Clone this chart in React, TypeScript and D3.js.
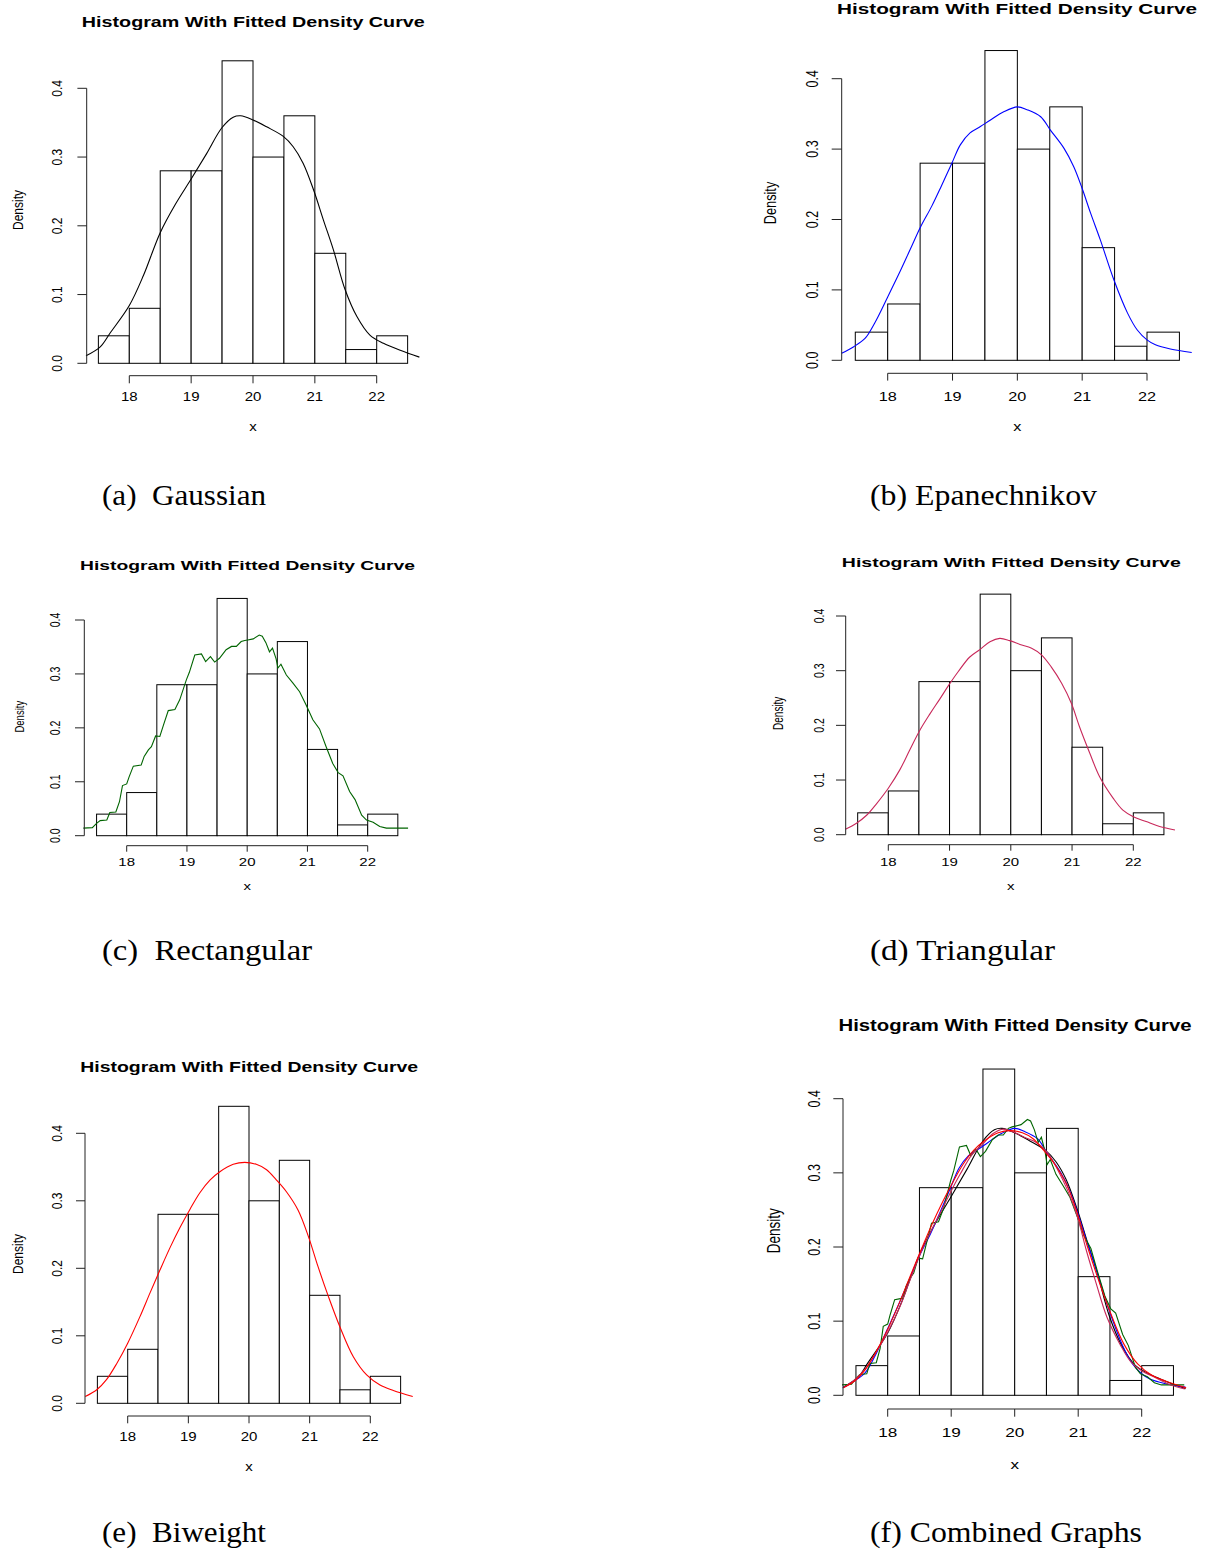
import React from 'react';
import * as d3 from 'd3';

// ---------- data ----------
const BIN_EDGES = [17.5, 18, 18.5, 19, 19.5, 20, 20.5, 21, 21.5, 22, 22.5];
const BIN_DENSITY = [0.04, 0.08, 0.28, 0.28, 0.44, 0.3, 0.36, 0.16, 0.02, 0.04];
const X_TICKS = [18, 19, 20, 21, 22];
const Y_TICKS = [0, 0.1, 0.2, 0.3, 0.4];
const Y_TICK_LABELS = ['0.0', '0.1', '0.2', '0.3', '0.4'];
const TITLE = 'Histogram With Fitted Density Curve';

const GAUSS_X = [17.3, 17.53, 17.69, 18.0, 18.23, 18.5, 18.75, 19.0, 19.25, 19.5, 19.68, 19.8, 20.0, 20.22, 20.49, 20.65, 20.81, 20.98, 21.14, 21.3, 21.49, 21.68, 21.89, 22.11, 22.38, 22.69];
const GAUSS_Y = [0.011, 0.024, 0.044, 0.084, 0.128, 0.19, 0.232, 0.268, 0.305, 0.343, 0.358, 0.36, 0.354, 0.344, 0.33, 0.315, 0.291, 0.252, 0.208, 0.165, 0.107, 0.068, 0.041, 0.029, 0.019, 0.009];

const EPAN_X = [17.29, 17.47, 17.65, 17.8, 18.0, 18.19, 18.35, 18.51, 18.68, 18.83, 18.99, 19.12, 19.27, 19.43, 19.58, 19.79, 20.0, 20.15, 20.36, 20.51, 20.72, 20.87, 21.0, 21.13, 21.28, 21.49, 21.7, 21.85, 22.0, 22.13, 22.36, 22.69];
const EPAN_Y = [0.01, 0.019, 0.031, 0.053, 0.09, 0.126, 0.158, 0.19, 0.219, 0.248, 0.28, 0.306, 0.323, 0.332, 0.341, 0.353, 0.36, 0.356, 0.346, 0.327, 0.301, 0.275, 0.244, 0.209, 0.171, 0.114, 0.067, 0.043, 0.029, 0.022, 0.016, 0.011];

const RECT_X = [17.28, 17.43, 17.5, 17.56, 17.67, 17.72, 17.82, 17.88, 17.93, 18.0, 18.04, 18.11, 18.24, 18.29, 18.36, 18.41, 18.48, 18.55, 18.61, 18.69, 18.8, 18.88, 18.99, 19.04, 19.13, 19.24, 19.31, 19.39, 19.46, 19.54, 19.65, 19.74, 19.82, 19.9, 19.96, 20.01, 20.1, 20.2, 20.25, 20.31, 20.37, 20.42, 20.48, 20.51, 20.56, 20.65, 20.76, 20.87, 20.98, 21.09, 21.2, 21.31, 21.42, 21.51, 21.59, 21.7, 21.79, 21.9, 21.98, 22.09, 22.2, 22.31, 22.67];
const RECT_Y = [0.014, 0.015, 0.023, 0.028, 0.029, 0.043, 0.044, 0.063, 0.093, 0.096, 0.109, 0.129, 0.131, 0.147, 0.159, 0.165, 0.185, 0.184, 0.205, 0.232, 0.234, 0.252, 0.289, 0.303, 0.335, 0.337, 0.323, 0.332, 0.322, 0.329, 0.345, 0.351, 0.351, 0.36, 0.362, 0.363, 0.365, 0.372, 0.37, 0.358, 0.341, 0.348, 0.328, 0.311, 0.318, 0.298, 0.283, 0.267, 0.242, 0.215, 0.198, 0.165, 0.134, 0.117, 0.111, 0.082, 0.067, 0.038, 0.029, 0.025, 0.017, 0.014, 0.014];

const TRI_X = [17.3, 17.48, 17.65, 17.81, 18.0, 18.19, 18.35, 18.52, 18.68, 18.84, 18.99, 19.14, 19.33, 19.5, 19.66, 19.82, 19.98, 20.15, 20.34, 20.5, 20.66, 20.83, 20.99, 21.12, 21.29, 21.45, 21.67, 21.83, 22.0, 22.21, 22.43, 22.68];
const TRI_Y = [0.01, 0.021, 0.036, 0.057, 0.085, 0.119, 0.155, 0.192, 0.221, 0.248, 0.274, 0.298, 0.325, 0.339, 0.353, 0.359, 0.355, 0.348, 0.341, 0.329, 0.307, 0.277, 0.24, 0.198, 0.149, 0.106, 0.067, 0.045, 0.033, 0.024, 0.015, 0.0085];

const BIWT_X = [17.3, 17.49, 17.65, 17.82, 18.0, 18.2, 18.37, 18.53, 18.7, 18.86, 19.03, 19.19, 19.36, 19.52, 19.74, 19.93, 20.12, 20.29, 20.45, 20.62, 20.81, 20.98, 21.14, 21.31, 21.5, 21.72, 21.94, 22.16, 22.38, 22.7];
const BIWT_Y = [0.01, 0.02, 0.035, 0.059, 0.089, 0.128, 0.164, 0.197, 0.231, 0.26, 0.288, 0.312, 0.331, 0.343, 0.354, 0.357, 0.354, 0.346, 0.331, 0.313, 0.286, 0.247, 0.202, 0.158, 0.113, 0.069, 0.042, 0.027, 0.019, 0.01];

const CAPTIONS = ['(a)  Gaussian', '(b) Epanechnikov', '(c)  Rectangular', '(d) Triangular', '(e)  Biweight', '(f) Combined Graphs'];

// ---------- curve definitions ----------
const CURVES = {
  gauss: { xs: GAUSS_X, ys: GAUSS_Y, color: '#000000', smooth: true },
  epan: { xs: EPAN_X, ys: EPAN_Y, color: '#0000ff', smooth: true },
  rect: { xs: RECT_X, ys: RECT_Y, color: '#006400', smooth: false },
  tri: { xs: TRI_X, ys: TRI_Y, color: '#c8285a', smooth: true },
  biwt: { xs: BIWT_X, ys: BIWT_Y, color: '#ff0000', smooth: true },
};

// ---------- layout ----------
const PANELS = [
  { curves: ['gauss'], yAxisX: 86.7, y0: 363.3, y04: 88.3, x18: 129.3, x22: 376.7, xAxisY: 375.7, tickLabelY: 397, xLabelY: 427, titleCx: 253.3, titleCy: 21, titleW: 343, titleFont: 15, densX: 18.3, densY: 210, densFont: 12, yLabelX: 57, yTickLen: 9.3, xTickLen: 7.6, sx: 1.25, tickFont: 12, capX: 102, capY: 505, capW: 164 },
  { curves: ['epan'], yAxisX: 841.7, y0: 360.3, y04: 78.7, x18: 887.7, x22: 1147, xAxisY: 373.3, tickLabelY: 396.7, xLabelY: 426.7, titleCx: 1017, titleCy: 8.3, titleW: 360, titleFont: 15, densX: 770.7, densY: 203, densFont: 12.8, yLabelX: 812, yTickLen: 10, xTickLen: 7.3, sx: 1.3, tickFont: 12.5, capX: 870, capY: 505, capW: 227 },
  { curves: ['rect'], yAxisX: 84.3, y0: 835.7, y04: 620, x18: 126.7, x22: 367.7, xAxisY: 845.7, tickLabelY: 862.3, xLabelY: 886.7, titleCx: 247.5, titleCy: 565.7, titleW: 335, titleFont: 12.6, densX: 18.3, densY: 716.7, densFont: 9.5, yLabelX: 55, yTickLen: 9.3, xTickLen: 6, sx: 1.43, tickFont: 10.5, capX: 102, capY: 960, capW: 210 },
  { curves: ['tri'], yAxisX: 845.7, y0: 834.7, y04: 616, x18: 888.3, x22: 1133.3, xAxisY: 844.7, tickLabelY: 862.3, xLabelY: 886, titleCx: 1011.3, titleCy: 562.3, titleW: 339, titleFont: 13.5, densX: 778.3, densY: 713.3, densFont: 10, yLabelX: 818.3, yTickLen: 9.7, xTickLen: 6, sx: 1.43, tickFont: 10.5, capX: 870, capY: 960, capW: 185 },
  { curves: ['biwt'], yAxisX: 85, y0: 1403.3, y04: 1133.3, x18: 127.7, x22: 370.3, xAxisY: 1416, tickLabelY: 1437.3, xLabelY: 1466.7, titleCx: 249.2, titleCy: 1066.7, titleW: 338, titleFont: 15, densX: 18.3, densY: 1254, densFont: 12, yLabelX: 56.7, yTickLen: 9, xTickLen: 7.3, sx: 1.25, tickFont: 12, capX: 102, capY: 1542, capW: 164 },
  { curves: ['gauss', 'epan', 'rect', 'tri', 'biwt'], yAxisX: 843, y0: 1395.3, y04: 1098.7, x18: 887.7, x22: 1141.7, xAxisY: 1409, tickLabelY: 1432.7, xLabelY: 1464, titleCx: 1015, titleCy: 1025, titleW: 353, titleFont: 16, densX: 772.7, densY: 1230.7, densFont: 13.5, yLabelX: 813.3, yTickLen: 9.7, xTickLen: 7.7, sx: 1.37, tickFont: 12.5, capX: 870, capY: 1542, capW: 272 },
];

const SANS = '"Liberation Sans", Arial, Helvetica, sans-serif';
const SERIF = '"Liberation Serif", "Times New Roman", serif';
const AXIS = '#222';

function Panel({ p, caption }: { p: any; caption: string }) {
  const x = d3.scaleLinear().domain([18, 22]).range([p.x18, p.x22]);
  const y = d3.scaleLinear().domain([0, 0.4]).range([p.y0, p.y04]);
  const bins = BIN_DENSITY.map((d, i) => ({ x0: BIN_EDGES[i], x1: BIN_EDGES[i + 1], d }));

  return (
    <g>
      <text
        x={p.titleCx}
        y={p.titleCy}
        textAnchor="middle"
        dominantBaseline="central"
        fontFamily={SANS}
        fontWeight="bold"
        fontSize={p.titleFont}
        textLength={p.titleW}
        lengthAdjust="spacingAndGlyphs"
        fill="#000"
      >
        {TITLE}
      </text>

      {bins.map((b, i) => (
        <rect
          key={i}
          x={x(b.x0)}
          y={y(b.d)}
          width={x(b.x1) - x(b.x0)}
          height={y(0) - y(b.d)}
          fill="#fff"
          stroke="#000"
          strokeWidth={1}
        />
      ))}

      {p.curves.map((key: string) => {
        const c = (CURVES as any)[key];
        const pts: [number, number][] = c.xs.map((v: number, i: number) => [v, c.ys[i]]);
        const gen = d3
          .line<[number, number]>()
          .x((d) => x(d[0]))
          .y((d) => y(d[1]))
          .curve(c.smooth ? d3.curveCatmullRom.alpha(0.5) : d3.curveLinear);
        return <path key={key} d={gen(pts) || ''} fill="none" stroke={c.color} strokeWidth={1.1} />;
      })}

      <line x1={p.yAxisX} x2={p.yAxisX} y1={y(0)} y2={y(0.4)} stroke={AXIS} strokeWidth={1} />
      {Y_TICKS.map((t, i) => (
        <g key={'yt' + i}>
          <line x1={p.yAxisX - p.yTickLen} x2={p.yAxisX} y1={y(t)} y2={y(t)} stroke={AXIS} strokeWidth={1} />
          <text
            transform={`translate(${p.yLabelX},${y(t)}) scale(${p.sx},1) rotate(-90)`}
            textAnchor="middle"
            dominantBaseline="central"
            fontFamily={SANS}
            fontSize={p.tickFont}
            fill="#000"
          >
            {Y_TICK_LABELS[i]}
          </text>
        </g>
      ))}

      <line x1={x(18)} x2={x(22)} y1={p.xAxisY} y2={p.xAxisY} stroke={AXIS} strokeWidth={1} />
      {X_TICKS.map((t) => (
        <g key={'xt' + t}>
          <line x1={x(t)} x2={x(t)} y1={p.xAxisY} y2={p.xAxisY + p.xTickLen} stroke={AXIS} strokeWidth={1} />
          <text
            transform={`translate(${x(t)},${p.tickLabelY}) scale(${p.sx},1)`}
            textAnchor="middle"
            dominantBaseline="central"
            fontFamily={SANS}
            fontSize={p.tickFont}
            fill="#000"
          >
            {t}
          </text>
        </g>
      ))}

      <text
        transform={`translate(${x(20)},${p.xLabelY}) scale(${p.sx},1)`}
        textAnchor="middle"
        dominantBaseline="central"
        fontFamily={SANS}
        fontSize={p.tickFont}
        fill="#000"
      >
        x
      </text>
      <text
        transform={`translate(${p.densX},${p.densY}) scale(${p.sx},1) rotate(-90)`}
        textAnchor="middle"
        dominantBaseline="central"
        fontFamily={SANS}
        fontSize={p.densFont}
        fill="#000"
      >
        Density
      </text>

      <text
        x={p.capX}
        y={p.capY}
        fontFamily={SERIF}
        fontSize={29}
        textLength={p.capW}
        lengthAdjust="spacingAndGlyphs"
        style={{ whiteSpace: 'pre' }}
        fill="#000"
      >
        {caption}
      </text>
    </g>
  );
}

export default function App() {
  return (
    <svg
      width={1205}
      height={1551}
      viewBox="0 0 1205 1551"
      style={{ position: 'absolute', left: 0, top: 0, display: 'block', background: '#fff' }}
    >
      <rect x={0} y={0} width={1205} height={1551} fill="#fff" />
      {PANELS.map((p, i) => (
        <Panel key={i} p={p} caption={CAPTIONS[i]} />
      ))}
    </svg>
  );
}
